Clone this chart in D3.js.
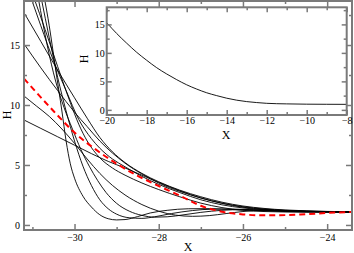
<!DOCTYPE html>
<html>
<head>
<meta charset="utf-8">
<script src="https://cdn.jsdelivr.net/npm/d3@7"></script>
<style>
  html, body { margin: 0; padding: 0; background: #fff; }
  svg { display: block; }
  text { font-family: "Liberation Serif", "DejaVu Serif", serif; }
</style>
</head>
<body>
<div id="chart"></div>
<script>
// main panel ticks
const mainXTicks = [-30, -28, -26, -24];
const mainXMinor = [-31, -29, -27, -25];
const mainYTicks = [0, 5, 10, 15];
const mainYMinor = [2.5, 7.5, 12.5, 17.5];

// inset ticks
const insetXTicks = [-20, -18, -16, -14, -12, -10, -8];
const insetXMinor = [-19, -17, -15, -13, -11, -9];
const insetYTicks = [0, 5, 10, 15];
const insetYMinor = [2.5, 7.5, 12.5, 17.5];

// profiles H(X), main panel
const curveL1 = [[-31.2,17.7],[-30.8,15.3],[-30.4,12.9],[-30,10.6],[-29.7,8.9],[-29.4,7.3],[-29.1,6.1],[-28.8,5.2],[-28.4,4.3],[-28,3.6],[-27.5,2.9],[-27,2.35],[-26.5,1.9],[-26,1.58],[-25.5,1.38],[-25,1.25],[-24.5,1.18],[-24,1.13],[-23.4,1.1]];
const curveL2 = [[-31.2,15.1],[-30.8,13.1],[-30.4,11.2],[-30,9.4],[-29.7,8.2],[-29.4,7.0],[-29.1,6.0],[-28.8,5.15],[-28.4,4.25],[-28,3.5],[-27.5,2.8],[-27,2.25],[-26.5,1.82],[-26,1.52],[-25.5,1.33],[-25,1.22],[-24.5,1.15],[-24,1.12],[-23.4,1.1]];
const curveL3 = [[-31.2,10.75],[-30.9,9.9],[-30.6,9.05],[-30.3,8.0],[-30,6.8],[-29.7,5.5],[-29.4,4.3],[-29.1,3.3],[-28.8,2.5],[-28.4,1.7],[-28,1.15],[-27.6,0.82],[-27.2,0.72],[-26.8,0.78],[-26.4,0.95],[-26,1.12],[-25.5,1.22],[-25,1.2],[-24.5,1.14],[-24,1.1],[-23.4,1.08]];
const curveL4 = [[-31.2,8.75],[-30.8,8.05],[-30.4,7.35],[-30,6.65],[-29.6,5.95],[-29.2,5.3],[-28.8,4.75],[-28.4,4.15],[-28,3.55],[-27.5,2.85],[-27,2.25],[-26.5,1.8],[-26,1.48],[-25.5,1.3],[-25,1.2],[-24.5,1.14],[-24,1.11],[-23.4,1.1]];
const curveT1 = [[-31.03,18.9],[-30.8,16.6],[-30.5,13.7],[-30.2,11.2],[-29.9,8.8],[-29.6,7.2],[-29.4,6.4],[-29.1,5.5],[-28.8,4.85],[-28.4,4.05],[-28,3.38],[-27.5,2.7],[-27,2.1],[-26.5,1.68],[-26,1.42],[-25.5,1.27],[-25,1.18],[-24.5,1.13],[-24,1.1],[-23.4,1.09]];
const curveT2 = [[-30.96,18.9],[-30.7,16.3],[-30.4,13.2],[-30.1,10.2],[-29.9,8.4],[-29.7,7.0],[-29.4,5.6],[-29.1,4.75],[-28.8,4.15],[-28.4,3.5],[-28,2.95],[-27.5,2.35],[-27,1.82],[-26.5,1.45],[-26,1.22],[-25.5,1.12],[-25,1.08],[-24.5,1.07],[-24,1.07],[-23.4,1.08]];
const curveB = [[-30.86,18.9],[-30.65,15.0],[-30.45,12.0],[-30.25,9.8],[-30.05,8.0],[-29.85,6.3],[-29.65,4.9],[-29.45,3.7],[-29.25,2.7],[-29,1.8],[-28.7,1.15],[-28.4,0.8],[-28.1,0.65],[-27.8,0.68],[-27.4,0.85],[-27,1.05],[-26.5,1.22],[-26,1.28],[-25.5,1.24],[-25,1.17],[-24.5,1.12],[-24,1.09],[-23.4,1.08]];
const curveA2 = [[-30.79,18.9],[-30.6,15.6],[-30.4,12.3],[-30.2,9.5],[-30,7.0],[-29.8,4.9],[-29.6,3.3],[-29.4,2.1],[-29.2,1.35],[-29,0.9],[-28.7,0.6],[-28.4,0.55],[-28.1,0.68],[-27.7,0.95],[-27.2,1.2],[-26.7,1.32],[-26.2,1.32],[-25.5,1.22],[-25,1.14],[-24.5,1.1],[-24,1.08],[-23.4,1.08]];
const curveA = [[-30.72,19.0],[-30.6,16.6],[-30.45,13.0],[-30.3,9.5],[-30.2,7.0],[-30.1,5.1],[-30,3.9],[-29.8,2.4],[-29.6,1.5],[-29.4,0.85],[-29.2,0.52],[-29,0.42],[-28.8,0.45],[-28.5,0.7],[-28.2,1.0],[-27.8,1.22],[-27.3,1.35],[-26.8,1.36],[-26.2,1.28],[-25.5,1.18],[-25,1.12],[-24.5,1.09],[-24,1.08],[-23.4,1.08]];
const blackCurves = [curveL1, curveL2, curveL3, curveL4, curveT1, curveT2, curveB, curveA2, curveA];

const redCurve = [[-31.2,12.2],[-30.5,9.5],[-30,7.7],[-29.5,6.3],[-29,5.1],[-28.5,4.1],[-28,3.25],[-27.5,2.45],[-27,1.6],[-26.5,1.1],[-26,0.88],[-25.5,0.8],[-25,0.82],[-24.5,0.9],[-24,1.0],[-23.4,1.08]];

// inset profile
const insetCurve = [[-20,15.3],[-19.5,13.4],[-19,11.7],[-18.5,10.1],[-18,8.7],[-17.5,7.4],[-17,6.3],[-16.5,5.3],[-16,4.4],[-15.5,3.65],[-15,3.0],[-14.5,2.5],[-14,2.05],[-13.5,1.7],[-13,1.45],[-12.5,1.28],[-12,1.15],[-11,1.05],[-10,1.0],[-9,0.98],[-8,0.97]];

const W = 354, H = 253;
const axisColor = "#7a7a7a";

const svg = d3.select("#chart")
  .append("svg")
  .attr("width", W)
  .attr("height", H);

// main panel
const main = { left: 24, right: 352, top: 1, bottom: 230 };
const x = d3.scaleLinear().domain([-31.2, -23.41]).range([main.left, main.right]);
const y = d3.scaleLinear().domain([-0.42, 18.67]).range([main.bottom, main.top]);

svg.append("clipPath").attr("id", "clipMain")
  .append("rect")
  .attr("x", main.left).attr("y", main.top)
  .attr("width", main.right - main.left).attr("height", main.bottom - main.top);

const line = d3.line()
  .x(d => x(d[0]))
  .y(d => y(d[1]))
  .curve(d3.curveMonotoneX);

const curves = svg.append("g").attr("clip-path", "url(#clipMain)");

curves.selectAll(".profile")
  .data(blackCurves)
  .enter()
  .append("path")
  .attr("class", "profile")
  .attr("d", line)
  .attr("fill", "none")
  .attr("stroke", "#000")
  .attr("stroke-width", 0.9);

curves.append("path")
  .datum(redCurve)
  .attr("d", line)
  .attr("fill", "none")
  .attr("stroke", "#ff0000")
  .attr("stroke-width", 2)
  .attr("stroke-dasharray", "6,4");

function drawAxes(g, xs, ys, box, xt, xm, yt, ym, major, minor, pad) {
  const styleAxis = sel => {
    sel.select(".domain").remove();
    sel.selectAll("line").attr("stroke", axisColor).attr("stroke-width", 1.5);
    sel.selectAll("text")
      .attr("fill", "#000")
      .style("font-size", "10px")
      .style("font-family", "Liberation Serif, serif");
  };
  g.append("g").attr("transform", `translate(0,${box.bottom})`)
    .call(d3.axisBottom(xs).tickValues(xt).tickSize(-major).tickPadding(pad).tickFormat(d3.format("d")))
    .call(styleAxis);
  g.append("g").attr("transform", `translate(0,${box.bottom})`)
    .call(d3.axisBottom(xs).tickValues(xm).tickSize(-minor).tickFormat(""))
    .call(styleAxis);
  g.append("g").attr("transform", `translate(0,${box.top})`)
    .call(d3.axisTop(xs).tickValues(xt).tickSize(-major).tickFormat(""))
    .call(styleAxis);
  g.append("g").attr("transform", `translate(0,${box.top})`)
    .call(d3.axisTop(xs).tickValues(xm).tickSize(-minor).tickFormat(""))
    .call(styleAxis);
  g.append("g").attr("transform", `translate(${box.left},0)`)
    .call(d3.axisLeft(ys).tickValues(yt).tickSize(-major).tickPadding(pad).tickFormat(d3.format("d")))
    .call(styleAxis);
  g.append("g").attr("transform", `translate(${box.left},0)`)
    .call(d3.axisLeft(ys).tickValues(ym).tickSize(-minor).tickFormat(""))
    .call(styleAxis);
  g.append("g").attr("transform", `translate(${box.right},0)`)
    .call(d3.axisRight(ys).tickValues(yt).tickSize(-major).tickFormat(""))
    .call(styleAxis);
  g.append("g").attr("transform", `translate(${box.right},0)`)
    .call(d3.axisRight(ys).tickValues(ym).tickSize(-minor).tickFormat(""))
    .call(styleAxis);
  g.append("rect")
    .attr("x", box.left).attr("y", box.top)
    .attr("width", box.right - box.left).attr("height", box.bottom - box.top)
    .attr("fill", "none")
    .attr("stroke", axisColor)
    .attr("stroke-width", 2);
}

drawAxes(svg.append("g"), x, y, main, mainXTicks, mainXMinor, mainYTicks, mainYMinor, 6, 3, 4);

svg.append("text")
  .attr("x", 188).attr("y", 251)
  .attr("text-anchor", "middle")
  .style("font-size", "12px")
  .text("X");

svg.append("text")
  .attr("transform", "translate(11,115) rotate(-90)")
  .attr("text-anchor", "middle")
  .style("font-size", "12px")
  .text("H");

// inset panel
const inset = { left: 106.7, right: 346.7, top: 7.3, bottom: 115 };
const xi = d3.scaleLinear().domain([-20, -8]).range([inset.left, inset.right]);
const yi = d3.scaleLinear().domain([-0.9, 18]).range([inset.bottom, inset.top]);

svg.append("rect")
  .attr("x", inset.left).attr("y", inset.top)
  .attr("width", inset.right - inset.left).attr("height", inset.bottom - inset.top)
  .attr("fill", "#fff");

const lineInset = d3.line()
  .x(d => xi(d[0]))
  .y(d => yi(d[1]))
  .curve(d3.curveMonotoneX);

svg.append("path")
  .datum(insetCurve)
  .attr("d", lineInset)
  .attr("fill", "none")
  .attr("stroke", "#000")
  .attr("stroke-width", 0.9);

drawAxes(svg.append("g"), xi, yi, inset, insetXTicks, insetXMinor, insetYTicks, insetYMinor, 5, 3, 2);

svg.append("text")
  .attr("x", 226).attr("y", 139)
  .attr("text-anchor", "middle")
  .style("font-size", "12px")
  .text("X");

svg.append("text")
  .attr("transform", "translate(88,59) rotate(-90)")
  .attr("text-anchor", "middle")
  .style("font-size", "12px")
  .text("H");
</script>
</body>
</html>
